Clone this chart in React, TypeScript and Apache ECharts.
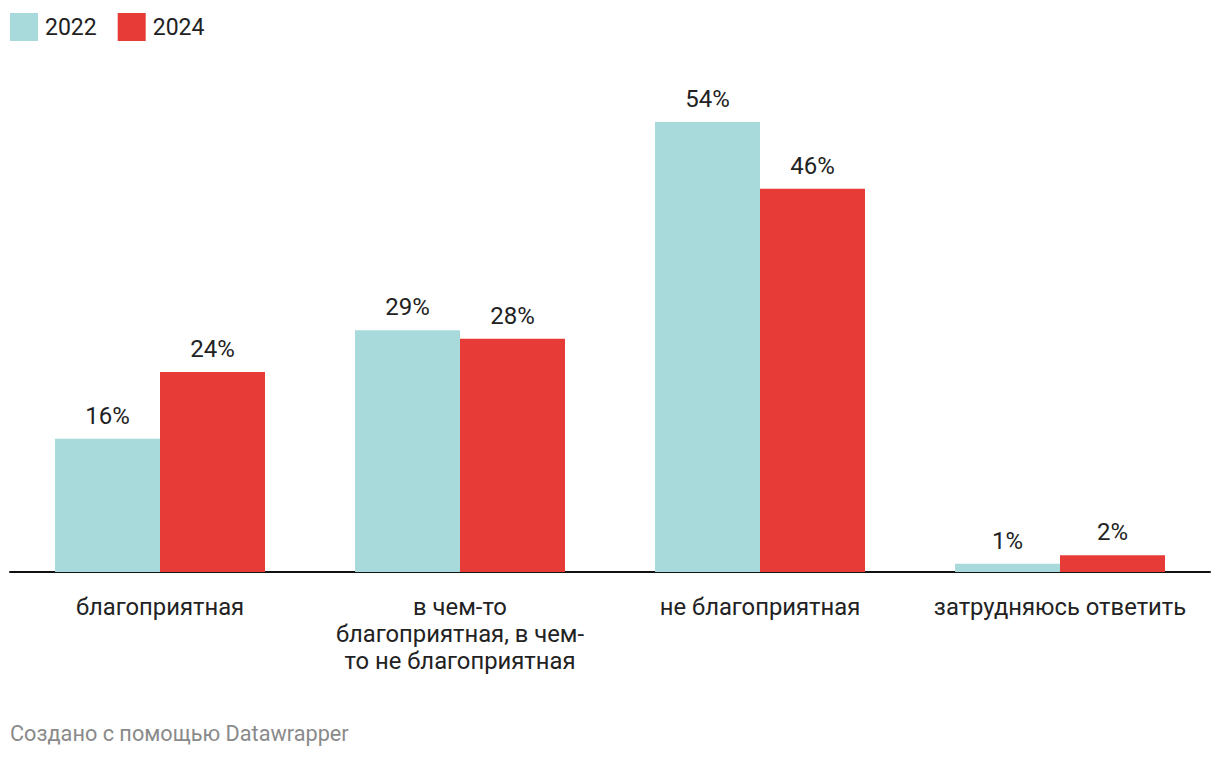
import React, { useEffect, useRef } from "react";
import * as echarts from "echarts";

const categories = [
  "благоприятная",
  "в чем-то\nблагоприятная, в чем-\nто не благоприятная",
  "не благоприятная",
  "затрудняюсь ответить",
];
const seriesNames = ["2022", "2024"];
const values2022 = [16, 29, 54, 1];
const values2024 = [24, 28, 46, 2];
const colors = ["#a8dadc", "#e63b37"];
const footer = "Создано с помощью Datawrapper";

export default function App() {
  const ref = useRef<HTMLDivElement>(null);
  useEffect(() => {
    if (!ref.current) return;
    const chart = echarts.init(ref.current, undefined, { renderer: "svg" });
    const font = "Roboto, 'Noto Sans', sans-serif";
    const label = {
      show: true,
      position: "top",
      distance: 11,
      formatter: "{c}%",
      fontFamily: font,
      fontSize: 24,
      color: "#222",
    };
    chart.setOption({
      animation: false,
      textStyle: { fontFamily: font },
      legend: {
        left: 10,
        top: 13,
        padding: 0,
        itemWidth: 28,
        itemHeight: 28,
        itemGap: 21,
        icon: "rect",
        textStyle: { fontSize: 23, color: "#222", fontFamily: font, padding: [0, 0, 0, 2] },
        data: seriesNames,
      },
      grid: { left: 10, right: 10, top: 72, height: 500, containLabel: false },
      xAxis: {
        type: "category",
        data: categories,
        axisLine: { lineStyle: { color: "#111", width: 2 } },
        axisTick: { alignWithLabel: true, length: 8, lineStyle: { color: "#111", width: 2 } },
        axisLabel: {
          fontSize: 23.8,
          color: "#222",
          fontFamily: font,
          lineHeight: 27,
          margin: 21,
          interval: 0,
        },
      },
      yAxis: { type: "value", min: 0, max: 60, show: false, splitLine: { show: false } },
      series: [
        {
          name: seriesNames[0],
          type: "bar",
          data: values2022,
          barWidth: 105,
          barGap: "0%",
          itemStyle: { color: colors[0] },
          label,
        },
        {
          name: seriesNames[1],
          type: "bar",
          data: values2024,
          barWidth: 105,
          barGap: "0%",
          itemStyle: { color: colors[1] },
          label,
        },
      ],
      graphic: [
        {
          type: "text",
          left: 10,
          top: 722,
          style: { text: footer, fontSize: 21.7, fill: "#8a8a8a", fontFamily: font },
        },
      ],
    });
    return () => chart.dispose();
  }, []);
  return (
    <div
      ref={ref}
      style={{ position: "fixed", left: 0, top: 0, width: 1220, height: 760, background: "#fff" }}
    />
  );
}
